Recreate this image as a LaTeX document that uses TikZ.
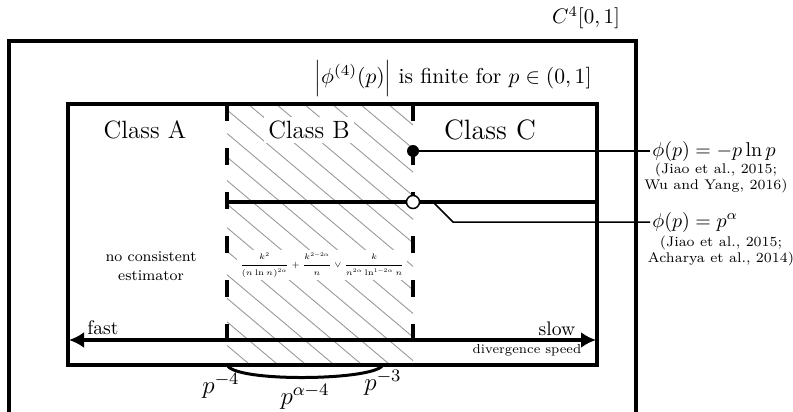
\RequirePackage{fix-cm}
\documentclass[tikz,border=0pt]{standalone}
\usetikzlibrary{arrows.meta}
\tikzset{
  frame/.style={line width=2pt, line join=miter},
  thickln/.style={line width=2pt},
  dashln/.style={line width=2pt, dash pattern=on 8.5pt off 13.5pt},
  thinln/.style={line width=0.75pt},
  hatchln/.style={line width=0.45pt, black!40},
  lbl/.style={inner sep=1pt},
  whitebox/.style={fill=white, inner sep=2pt},
}
\begin{document}
\begin{tikzpicture}[x=0.5pt,y=-0.5pt]
\useasboundingbox (0,0) rectangle (793,412);
% hatch
\begin{scope}
  \clip (227,104) rectangle (413,365);
  \foreach \i in {-340,-312,...,440} {
    \draw[hatchln] (\i,104) -- ++(340,286);
  }
\end{scope}
% outer frame
\coordinate (o1) at (9,416);
\coordinate (o2) at (9,41);
\coordinate (o3) at (636,41);
\coordinate (o4) at (636,416);
\draw[frame] (o1) -- (o2) -- (o3) -- (o4);
\node[anchor=east, font=\fontsize{10.5}{12}\selectfont] (c4) at (627,18) {$C^4[0,1]$};
% inner frame
\coordinate (i1) at (68,104);
\coordinate (i2) at (597,365);
\draw[frame] (i1) rectangle (i2);
\node[font=\fontsize{10.8}{13}\selectfont] (fin) at (453,78) {$\Bigl|\phi^{(4)}(p)\Bigr|$ is finite for $p\in(0,1]$};
% class labels
\node[font=\fontsize{12.5}{14}\selectfont] (ca) at (145,130) {Class A};
\node[whitebox, font=\fontsize{12.5}{14}\selectfont] (cb) at (309,130) {Class B};
\node[font=\fontsize{14}{16}\selectfont] (cc) at (490,130) {Class C};
\node[align=center, font=\fontsize{7.5}{9.5}\selectfont] (nce) at (151,266) {no consistent\\estimator};
\node[whitebox, inner sep=1.5pt, font=\fontsize{5.9}{7}\selectfont] (frm) at (322,265)
  {\resizebox{82pt}{!}{$\displaystyle\frac{k^2}{(n\ln n)^{2\alpha}}+\frac{k^{2-2\alpha}}{n}\vee\frac{k}{n^{2\alpha}\ln^{1-2\alpha}n}$}};
% dashed boundaries
\coordinate (dl1) at (227,104);
\coordinate (dl2) at (227,365);
\coordinate (dr1) at (413,104);
\coordinate (dr2) at (413,365);
\draw[dashln] (dl1) -- (dl2);
\draw[dashln] (dr1) -- (dr2);
% thick horizontal line
\coordinate (h1) at (227,202);
\coordinate (h2) at (597,202);
\draw[thickln] (h1) -- (h2);
% labels on the right
\node[lbl, anchor=west, font=\fontsize{10}{12}\selectfont] (l1) at (650,151) {$\phi(p)=-p\ln p$};
\node[align=center, font=\fontsize{7}{8}\selectfont] (r1) at (716,178) {(Jiao et al., 2015;\\Wu and Yang, 2016)};
\node[lbl, anchor=west, font=\fontsize{10}{12}\selectfont] (l2) at (650,222) {$\phi(p)=p^{\alpha}$};
\node[align=center, font=\fontsize{7}{8}\selectfont] (r2) at (721,251) {(Jiao et al., 2015;\\Acharya et al., 2014)};
% connectors
\node[circle, fill=black, inner sep=0pt, minimum size=6pt] (d1) at (413,151) {};
\draw[thinln] (d1.center) -- (l1.west);
\coordinate (k1) at (433,202);
\coordinate (k2) at (453,222);
\draw[thinln] (k1) -- (k2) -- (l2.west);
\node[circle, draw=black, fill=white, line width=0.75pt, inner sep=0pt, minimum size=6.5pt] (d2) at (413,202) {};
% speed arrow
\coordinate (a1) at (69,340);
\coordinate (a2) at (596,340);
\draw[thickln, {Latex[length=7.5pt,width=8pt]}-{Latex[length=7.5pt,width=8pt]}] (a1) -- (a2);
\node[font=\fontsize{9.8}{12}\selectfont] (fast) at (103,328) {fast};
\node[font=\fontsize{9.8}{12}\selectfont] (slow) at (557,329) {slow};
\node[font=\fontsize{6.5}{8}\selectfont] (dsp) at (527,350) {divergence speed};
% brace curve
\coordinate (b1) at (227,364);
\coordinate (b2) at (383,364);
\draw[line width=1.5pt] (b1) .. controls (229,383) and (381,381) .. (b2);
\node[font=\fontsize{12.5}{14}\selectfont] (p4) at (221,386) {$p^{-4}$};
\node[font=\fontsize{12.5}{14}\selectfont] (pa) at (305,397) {$p^{\alpha-4}$};
\node[font=\fontsize{12.5}{14}\selectfont] (p3) at (383,383) {$p^{-3}$};
\end{tikzpicture}
\end{document}
